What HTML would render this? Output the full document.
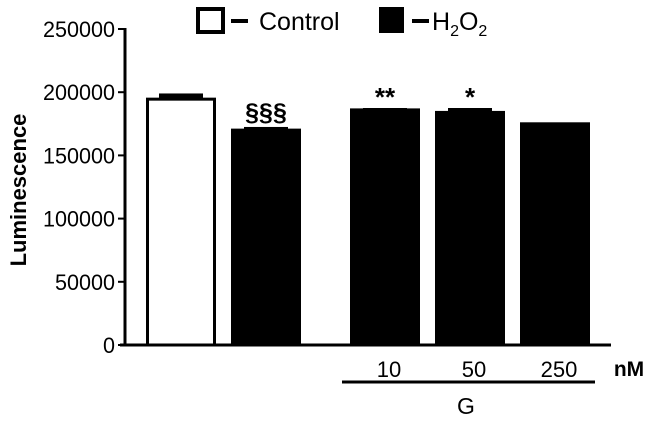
<!DOCTYPE html>
<html><head><meta charset="utf-8"><style>
body{margin:0;background:#fff}
svg text{font-family:"Liberation Sans",Arial,sans-serif;fill:#000}
</style></head><body>
<svg width="650" height="419" viewBox="0 0 650 419" xmlns="http://www.w3.org/2000/svg">
<g id="legend">
  <rect x="198" y="9" width="25" height="23" fill="#fff" stroke="#000" stroke-width="4"/>
  <line x1="231" y1="21" x2="248" y2="21" stroke="#000" stroke-width="4"/>
  <text x="259" y="30" font-size="25">Control</text>
  <rect x="379" y="7" width="25" height="26" fill="#000"/>
  <line x1="412" y1="21" x2="429" y2="21" stroke="#000" stroke-width="4"/>
  <text x="432" y="30" font-size="25">H<tspan font-size="16" dy="6">2</tspan><tspan dy="-6">O</tspan><tspan font-size="16" dy="6">2</tspan></text>
</g>
<g id="axes"></g>
<g id="bars"></g>
<text transform="translate(26,190) rotate(-90)" text-anchor="middle" font-size="22" font-weight="bold">Luminescence</text>
<text x="629" y="376" text-anchor="middle" font-size="21" font-weight="bold">nM</text>
<line x1="342" y1="382" x2="595" y2="382" stroke="#000" stroke-width="3"/>
<text x="466" y="414" text-anchor="middle" font-size="23">G</text>
</svg>
<script>
const categories=["Control","H2O2","10","50","250"];
const values=[194500,170000,186000,184000,175000];
const errors=[4500,2500,1500,3500,600];
const annotations=["","§§§","**","*",""];
const fills=["#fff","#000","#000","#000","#000"];
const yTicks=[0,50000,100000,150000,200000,250000];
const xLabels=["","","10","50","250"];
const NS="http://www.w3.org/2000/svg";
const svg=document.querySelector("svg");
const y0=345,y1=29,ymax=250000;
const yScale=v=>y0-(v/ymax)*(y0-y1);
const barLeft=[146,231,350,435,520],barW=70;
function mk(t,a,p){const e=document.createElementNS(NS,t);for(const k in a)e.setAttribute(k,a[k]);(p||svg).appendChild(e);return e;}
const ax=document.getElementById("axes");
const yl=mk("line",{x1:125,y1:y1-1,x2:125,y2:y0+1,stroke:"#000","stroke-width":3},ax);


const xl=mk("line",{x1:120,y1:y0,x2:611,y2:y0,stroke:"#000","stroke-width":3},ax);


yTicks.forEach(t=>{
  const y=yScale(t);
  mk("line",{x1:118,y1:y,x2:125,y2:y,stroke:"#000","stroke-width":2},ax);
  const tx=mk("text",{x:115,y:y+8,"text-anchor":"end","font-size":22,"textLength":String(t).length*12,"lengthAdjust":"spacingAndGlyphs"},ax);
  tx.textContent=t;
  
  
});
const bg=document.getElementById("bars");
values.forEach((v,i)=>{
  const x=barLeft[i],yt=yScale(v),ye=yScale(v+errors[i]);
  const cx=x+barW/2;
  const eb=mk("rect",{x:cx-22,y:ye,width:44,height:Math.max(yt-ye,1)+2,fill:"#000"},bg);
  
  
  const r=mk("rect",{x:x+1.5,y:yt,width:barW-3,height:y0-yt,fill:fills[i],stroke:"#000","stroke-width":3},bg);
  
  
  if(annotations[i]){
    const star=annotations[i][0]=="*";
    const a=mk("text",{x:cx,y:star?ye-2:ye-6,"text-anchor":"middle","font-size":star?26:25,"font-weight":"bold"},bg);
    a.textContent=annotations[i];
    
    
  }
  if(xLabels[i]){
    const l=mk("text",{x:cx+4,y:377,"text-anchor":"middle","font-size":22},bg);
    l.textContent=xLabels[i];
    
    
  }
});
</script>
</body></html>
